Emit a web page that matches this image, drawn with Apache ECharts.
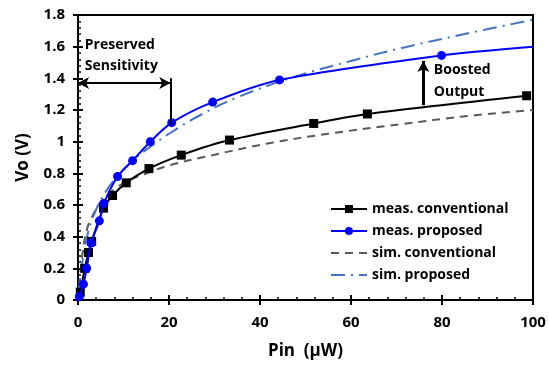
<!DOCTYPE html>
<html>
<head>
<meta charset="utf-8">
<script src="https://cdn.jsdelivr.net/npm/echarts@6/dist/echarts.min.js"></script>
<style>
  html, body { margin: 0; padding: 0; background: #fff; }
  #main { width: 549px; height: 365px; }
</style>
</head>
<body>
<div id="main"></div>
<script>
// values: [Pin (uW), Vo (V)]
var measConventional = [
    [0.5, 0.05], [1.5, 0.2], [2.3, 0.3], [3, 0.37], [5.6, 0.58], [7.6, 0.66],
    [10.6, 0.74], [15.6, 0.83], [22.7, 0.915], [33.3, 1.01], [51.8, 1.115],
    [63.6, 1.175], [98.6, 1.29]
];
var measProposed = [
    [0.3, 0.02], [1.2, 0.1], [1.9, 0.2], [2.9, 0.36], [4.7, 0.5], [5.7, 0.61],
    [8.7, 0.78], [12, 0.88], [15.9, 1.0], [20.6, 1.12], [29.6, 1.25],
    [44.3, 1.39], [79.9, 1.545]
];
var measProposedEnd = [100, 1.6];
var simConventional = [
    [0, 0], [1, 0.3], [2, 0.45], [3, 0.52], [5, 0.62], [8, 0.7], [11.5, 0.76],
    [16, 0.81], [20, 0.85], [28, 0.905], [42, 0.99], [55, 1.05], [71, 1.11],
    [85, 1.16], [100, 1.2]
];
var simProposed = [
    [0, 0], [0.5, 0.15], [1, 0.25], [2, 0.4], [3, 0.5], [5, 0.63], [8, 0.76],
    [12, 0.88], [16, 0.97], [20, 1.05], [27, 1.17], [35, 1.28], [47.6, 1.41],
    [60, 1.51], [70.9, 1.59], [85, 1.68], [100, 1.77]
];
var seriesNames = ['meas. conventional', 'meas. proposed', 'sim. conventional', 'sim. proposed'];

var fontFamily = '"Open Sans", "Noto Sans", sans-serif';
var chart = echarts.init(document.getElementById('main'));

var option = {
    backgroundColor: '#fff',
    animation: false,
    grid: {
        left: 78, right: 16, top: 15, bottom: 65,
        show: true, borderColor: '#000', borderWidth: 2
    },
    legend: {
        data: seriesNames,
        orient: 'vertical',
        left: 325,
        top: 197,
        itemWidth: 36,
        itemHeight: 10,
        itemGap: 8,
        textStyle: { fontFamily: fontFamily, fontWeight: 'bold', fontSize: 14, color: '#000' }
    },
    xAxis: [{
        type: 'value', min: 0, max: 100, interval: 20,
        name: 'Pin  (\u03bcW)', nameLocation: 'middle', nameGap: 43,
        nameTextStyle: { fontFamily: fontFamily, fontWeight: 'bold', fontSize: 17, color: '#000' },
        axisLine: { show: true, lineStyle: { color: '#000', width: 2 } },
        axisTick: { show: true, inside: true, length: 5, lineStyle: { color: '#000', width: 2 } },
        minorTick: { show: true, splitNumber: 5, length: 3, lineStyle: { color: '#000', width: 1.5 } },
        splitLine: { show: false },
        axisLabel: { fontFamily: fontFamily, fontWeight: 'bold', fontSize: 15, color: '#000', margin: 15 }
    }, {
        type: 'value', min: 0, max: 100, interval: 20, position: 'bottom',
        axisLine: { show: false },
        axisTick: { show: true, inside: false, length: 5, lineStyle: { color: '#000', width: 2 } },
        axisLabel: { show: false },
        splitLine: { show: false }
    }],
    yAxis: [{
        type: 'value', min: 0, max: 1.8, interval: 0.2,
        name: 'Vo (V)', nameLocation: 'middle', nameGap: 46,
        nameTextStyle: { fontFamily: fontFamily, fontWeight: 'bold', fontSize: 17, color: '#000' },
        axisLine: { show: true, lineStyle: { color: '#000', width: 2 } },
        axisTick: { show: true, inside: true, length: 5, lineStyle: { color: '#000', width: 2 } },
        minorTick: { show: true, splitNumber: 5, length: 3, lineStyle: { color: '#000', width: 1.5 } },
        splitLine: { show: false },
        axisLabel: { fontFamily: fontFamily, fontWeight: 'bold', fontSize: 15, color: '#000', margin: 13 }
    }, {
        type: 'value', min: 0, max: 1.8, interval: 0.2, position: 'left',
        axisLine: { show: false },
        axisTick: { show: true, inside: false, length: 5, lineStyle: { color: '#000', width: 2 } },
        axisLabel: { show: false },
        splitLine: { show: false }
    }],
    series: [
        {
            name: seriesNames[2], type: 'line', data: simConventional,
            smooth: 0.4, symbol: 'circle', showSymbol: false, z: 2,
            lineStyle: { color: '#595959', width: 2, type: [8, 6] },
            itemStyle: { color: 'rgba(0,0,0,0)' }
        },
        {
            name: seriesNames[3], type: 'line', data: simProposed,
            smooth: 0.4, symbol: 'circle', showSymbol: false, z: 2,
            lineStyle: { color: '#4472C4', width: 2, type: [14, 6, 2, 6] },
            itemStyle: { color: 'rgba(0,0,0,0)' }
        },
        {
            name: seriesNames[0], type: 'line', data: measConventional,
            smooth: 0.3, symbol: 'rect', symbolSize: 9, z: 3,
            lineStyle: { color: '#000', width: 2 },
            itemStyle: { color: '#000' }
        },
        {
            name: seriesNames[1], type: 'line',
            data: measProposed.concat([{ value: measProposedEnd, symbol: 'none' }]),
            smooth: 0.3, symbol: 'circle', symbolSize: 9, z: 4,
            lineStyle: { color: '#0000FF', width: 2 },
            itemStyle: { color: '#0000FF' }
        },
        {
            // annotation arrows
            type: 'line', data: [], z: 5,
            markLine: {
                silent: true, animation: false,
                label: { show: false },
                symbolSize: [9, 11],
                lineStyle: { color: '#000', width: 2, type: 'solid' },
                data: [
                    [{ coord: [0, 1.37], symbol: 'arrow' }, { coord: [20.3, 1.37], symbol: 'arrow' }],
                    [{ coord: [20.3, 1.40], symbol: 'none' }, { coord: [20.3, 1.105], symbol: 'none' }],
                    [{ coord: [75.9, 1.23], symbol: 'none', lineStyle: { width: 3 } },
                     { coord: [75.9, 1.51], symbol: 'arrow' }]
                ]
            }
        }
    ]
};
chart.setOption(option);

var textStyleBold = { fontFamily: fontFamily, fontWeight: 'bold', fontSize: 14, fill: '#000' };
function textAt(str, dx, dy) {
    var p = chart.convertToPixel({ gridIndex: 0 }, [dx, dy]);
    return {
        type: 'text', x: p[0], y: p[1], z: 10,
        style: Object.assign({ text: str, verticalAlign: 'middle', align: 'left' }, textStyleBold)
    };
}
chart.setOption({
    graphic: [
        textAt('Preserved', 1.5, 1.61),
        textAt('Sensitivity', 1.5, 1.475),
        textAt('Boosted', 78.2, 1.453),
        textAt('Output', 78.2, 1.314)
    ]
});
</script>
</body>
</html>
